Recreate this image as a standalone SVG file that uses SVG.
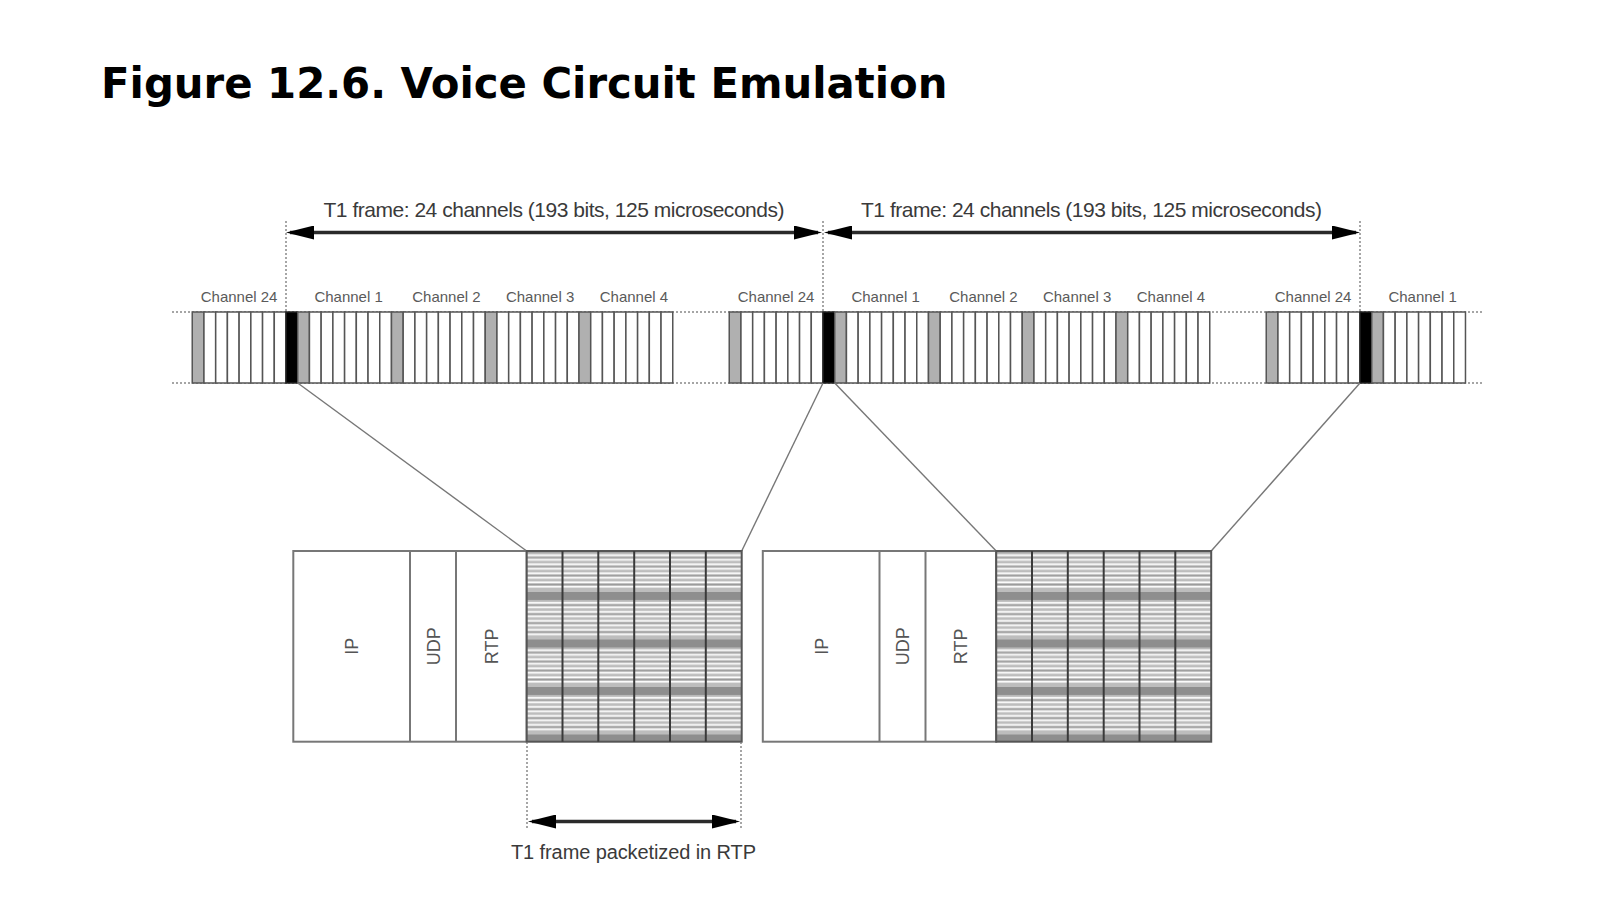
<svg xmlns="http://www.w3.org/2000/svg" xmlns:xlink="http://www.w3.org/1999/xlink" width="1624" height="900" viewBox="0 0 1624 900">
<style>
.title{font-family:"DejaVu Sans",Verdana,sans-serif;font-weight:bold;font-size:41.8px;fill:#000}
.lbl{font-family:"Liberation Sans",Arial,sans-serif;fill:#3a3a3a}
.big{font-size:21px;text-anchor:middle}
.ch{font-size:15px;fill:#5a5a5a;text-anchor:middle}
.hdr{font-size:18px;fill:#555;text-anchor:middle}
.dotv{stroke:#777;stroke-width:1.3;stroke-dasharray:2 2;fill:none}
.doth{stroke:#888;stroke-width:1.5;stroke-dasharray:2 2}
.arr{stroke:#2a2a2a;stroke-width:3.5;marker-start:url(#ah);marker-end:url(#ah)}
.conn{stroke:#777;stroke-width:1.4;fill:none}
.box{fill:#fff;stroke:#777;stroke-width:2}
.pay{fill:url(#pl);stroke:#555;stroke-width:2}
.bit{fill:#fff;stroke:#555;stroke-width:1.5}
.gbit{fill:#b0b0b0;stroke:#555;stroke-width:1.5}
.fbit{fill:#000;stroke:#222;stroke-width:1.5}
.col{stroke:#3a3a3a;stroke-width:2}
</style>
<defs>
<marker id="ah" viewBox="0 0 28 14" markerWidth="28" markerHeight="14" refX="24" refY="7" orient="auto-start-reverse" markerUnits="userSpaceOnUse">
<path d="M0,0 L28,7 L0,14 Z" fill="#000"/>
</marker>
<pattern id="pl" patternUnits="userSpaceOnUse" x="0" y="544.5" width="10" height="47.5">
<rect x="0" y="0" width="10" height="47.5" fill="#bdbdbd"/>
<rect x="0" y="0" width="10" height="8" fill="#8e8e8e"/>
<rect x="0" y="10" width="10" height="1.6" fill="#fff"/>
<rect x="0" y="12.6" width="10" height="1" fill="#999"/>
<rect x="0" y="14.5" width="10" height="1.6" fill="#fff"/>
<rect x="0" y="19" width="10" height="1.6" fill="#fff"/>
<rect x="0" y="21.6" width="10" height="1" fill="#999"/>
<rect x="0" y="23.5" width="10" height="1.6" fill="#fff"/>
<rect x="0" y="28" width="10" height="1.6" fill="#fff"/>
<rect x="0" y="30.6" width="10" height="1" fill="#999"/>
<rect x="0" y="32.5" width="10" height="1.6" fill="#fff"/>
<rect x="0" y="37" width="10" height="1.6" fill="#fff"/>
<rect x="0" y="39.6" width="10" height="1" fill="#999"/>
<rect x="0" y="41.5" width="10" height="1.6" fill="#fff"/>
</pattern>
<g id="chan">
<rect class="gbit" x="0" y="0" width="11.72" height="71"/>
<rect class="bit" x="11.72" y="0" width="11.72" height="71"/>
<rect class="bit" x="23.44" y="0" width="11.72" height="71"/>
<rect class="bit" x="35.16" y="0" width="11.72" height="71"/>
<rect class="bit" x="46.88" y="0" width="11.72" height="71"/>
<rect class="bit" x="58.6" y="0" width="11.72" height="71"/>
<rect class="bit" x="70.32" y="0" width="11.72" height="71"/>
<rect class="bit" x="82.04" y="0" width="11.72" height="71"/>
</g>
</defs>
<rect width="1624" height="900" fill="#fff"/>

<g id="title">
<text class="title" x="101" y="98">Figure 12.6. Voice Circuit Emulation</text>
</g>

<g id="frame-spans">
<line class="dotv" x1="286" y1="221" x2="286" y2="312"/>
<line class="dotv" x1="823" y1="221" x2="823" y2="312"/>
<line class="dotv" x1="1360" y1="221" x2="1360" y2="312"/>
<line class="arr" x1="290" y1="232.5" x2="818" y2="232.5"/>
<line class="arr" x1="828" y1="232.5" x2="1356" y2="232.5"/>
<text class="lbl big" x="554" y="216.5" textLength="461" lengthAdjust="spacing">T1 frame: 24 channels (193 bits, 125 microseconds)</text>
<text class="lbl big" x="1091.5" y="216.5" textLength="461" lengthAdjust="spacing">T1 frame: 24 channels (193 bits, 125 microseconds)</text>
</g>

<g id="t1-stream">
<line class="doth" x1="172" y1="312" x2="1483" y2="312"/>
<line class="doth" x1="172" y1="383" x2="1483" y2="383"/>
<use xlink:href="#chan" href="#chan" x="192.24" y="312"/>
<rect class="fbit" x="286" y="312" width="11.72" height="71"/>
<use xlink:href="#chan" href="#chan" x="297.72" y="312"/>
<use xlink:href="#chan" href="#chan" x="391.48" y="312"/>
<use xlink:href="#chan" href="#chan" x="485.24" y="312"/>
<use xlink:href="#chan" href="#chan" x="579" y="312"/>
<use xlink:href="#chan" href="#chan" x="729.24" y="312"/>
<rect class="fbit" x="823" y="312" width="11.72" height="71"/>
<use xlink:href="#chan" href="#chan" x="834.72" y="312"/>
<use xlink:href="#chan" href="#chan" x="928.48" y="312"/>
<use xlink:href="#chan" href="#chan" x="1022.24" y="312"/>
<use xlink:href="#chan" href="#chan" x="1116" y="312"/>
<use xlink:href="#chan" href="#chan" x="1266.24" y="312"/>
<rect class="fbit" x="1360" y="312" width="11.72" height="71"/>
<use xlink:href="#chan" href="#chan" x="1371.72" y="312"/>
</g>

<g id="channel-labels">
<text class="lbl ch" x="239.1" y="302">Channel 24</text>
<text class="lbl ch" x="348.6" y="302">Channel 1</text>
<text class="lbl ch" x="446.4" y="302">Channel 2</text>
<text class="lbl ch" x="540.1" y="302">Channel 3</text>
<text class="lbl ch" x="633.9" y="302">Channel 4</text>
<text class="lbl ch" x="776.1" y="302">Channel 24</text>
<text class="lbl ch" x="885.6" y="302">Channel 1</text>
<text class="lbl ch" x="983.4" y="302">Channel 2</text>
<text class="lbl ch" x="1077.1" y="302">Channel 3</text>
<text class="lbl ch" x="1170.9" y="302">Channel 4</text>
<text class="lbl ch" x="1313.1" y="302">Channel 24</text>
<text class="lbl ch" x="1422.6" y="302">Channel 1</text>
</g>

<g id="connectors">
<line class="conn" x1="297.7" y1="383" x2="526.7" y2="551"/>
<line class="conn" x1="823" y1="383" x2="741.7" y2="551"/>
<line class="conn" x1="834.7" y1="383" x2="996.2" y2="551"/>
<line class="conn" x1="1360" y1="383" x2="1211.2" y2="551"/>
</g>

<g id="packet-1">
<rect class="box" x="293.3" y="551" width="233.4" height="190.7"/>
<line class="box" x1="410" y1="551" x2="410" y2="741.7"/>
<line class="box" x1="456" y1="551" x2="456" y2="741.7"/>
<rect class="pay" x="526.7" y="551" width="215" height="190.7"/>
<line class="col" x1="562.5" y1="551" x2="562.5" y2="741.7"/>
<line class="col" x1="598.3" y1="551" x2="598.3" y2="741.7"/>
<line class="col" x1="634.2" y1="551" x2="634.2" y2="741.7"/>
<line class="col" x1="670" y1="551" x2="670" y2="741.7"/>
<line class="col" x1="705.8" y1="551" x2="705.8" y2="741.7"/>
<text class="lbl hdr" transform="translate(351.7,646.3) rotate(-90)" x="0" y="6.5">IP</text>
<text class="lbl hdr" transform="translate(433,646.3) rotate(-90)" x="0" y="6.5">UDP</text>
<text class="lbl hdr" transform="translate(491.3,646.3) rotate(-90)" x="0" y="6.5">RTP</text>
</g>

<g id="packet-2">
<rect class="box" x="762.8" y="551" width="233.4" height="190.7"/>
<line class="box" x1="879.5" y1="551" x2="879.5" y2="741.7"/>
<line class="box" x1="925.5" y1="551" x2="925.5" y2="741.7"/>
<rect class="pay" x="996.2" y="551" width="215" height="190.7"/>
<line class="col" x1="1032" y1="551" x2="1032" y2="741.7"/>
<line class="col" x1="1067.8" y1="551" x2="1067.8" y2="741.7"/>
<line class="col" x1="1103.7" y1="551" x2="1103.7" y2="741.7"/>
<line class="col" x1="1139.5" y1="551" x2="1139.5" y2="741.7"/>
<line class="col" x1="1175.3" y1="551" x2="1175.3" y2="741.7"/>
<text class="lbl hdr" transform="translate(821.2,646.3) rotate(-90)" x="0" y="6.5">IP</text>
<text class="lbl hdr" transform="translate(902.5,646.3) rotate(-90)" x="0" y="6.5">UDP</text>
<text class="lbl hdr" transform="translate(960.8,646.3) rotate(-90)" x="0" y="6.5">RTP</text>
</g>

<g id="packet-span">
<line class="dotv" x1="527" y1="742" x2="527" y2="830"/>
<line class="dotv" x1="741" y1="742" x2="741" y2="830"/>
<line class="arr" x1="532" y1="821.5" x2="736" y2="821.5"/>
<text class="lbl" x="633.5" y="858.5" font-size="20" text-anchor="middle" textLength="245" lengthAdjust="spacing">T1 frame packetized in RTP</text>
</g>
</svg>
